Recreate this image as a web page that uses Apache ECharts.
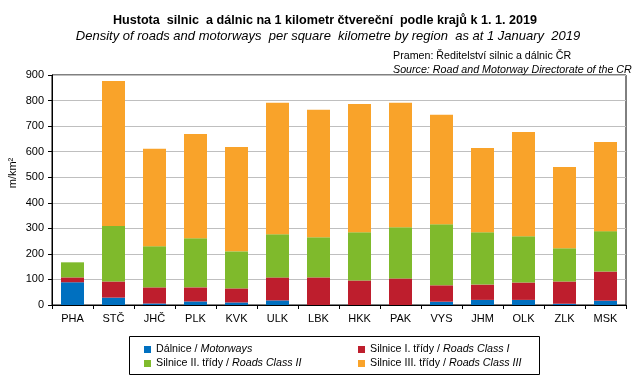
<!DOCTYPE html>
<html><head><meta charset="utf-8">
<script src="https://cdn.jsdelivr.net/npm/echarts@6/dist/echarts.min.js"></script>
<style>html,body{margin:0;padding:0;background:#fff}#c{width:643px;height:390px}</style>
</head><body><div id="c"></div>
<script>
const categories = ['PHA','STČ','JHČ','PLK','KVK','ULK','LBK','HKK','PAK','VYS','JHM','OLK','ZLK','MSK'];
const motorways = [89, 29, 6, 14, 10, 18, 0, 0, 0, 13, 20, 20, 5, 17];
const roadsClass1 = [19, 63, 63, 55, 55, 90, 108, 96, 104, 64, 60, 68, 87, 114];
const roadsClass2 = [59, 217, 161, 192, 145, 169, 157, 189, 200, 239, 205, 181, 130, 158];
const roadsClass3 = [0, 568, 381, 408, 408, 514, 499, 502, 487, 428, 329, 408, 318, 349];
const yTicks = {min: 0, max: 900, interval: 100};
const seriesNames = ['Dálnice', 'Silnice I. třídy', 'Silnice II. třídy', 'Silnice III. třídy'];
const seriesNamesEn = {'Dálnice':'Motorways','Silnice I. třídy':'Roads Class I','Silnice II. třídy':'Roads Class II','Silnice III. třídy':'Roads Class III'};
const colors = ['#0070C0', '#BE1E2D', '#7FBA2C', '#F9A32A'];

const F = '"Liberation Sans", Arial, sans-serif';
const chart = echarts.init(document.getElementById('c'), null, {renderer:'canvas'});
const legendText = {
  fontFamily: F, fontSize: 10.7, color: '#000',
  rich: {
    n: {fontFamily: F, fontSize: 10.7, color: '#000'},
    i: {fontFamily: F, fontSize: 10.7, color: '#000', fontStyle: 'italic'}
  }
};
const legendFmt = name => '{n|' + name + ' / }{i|' + seriesNamesEn[name] + '}';
const dataSets = [motorways, roadsClass1, roadsClass2, roadsClass3];
chart.setOption({
  animation: false,
  textStyle: {fontFamily: F},
  title: [
    {text: 'Hustota  silnic  a dálnic na 1 kilometr čtvereční  podle krajů k 1. 1. 2019', left: 320, textAlign: 'center', top: 9,
     textStyle: {fontFamily: '"Liberation Sans Narrow", ' + F, fontWeight: 'bold', fontSize: 12.6, color: '#000'}},
    {text: 'Density of roads and motorways  per square  kilometre by region  as at 1 January  2019', left: 323, textAlign: 'center', top: 25,
     textStyle: {fontFamily: F, fontStyle: 'italic', fontWeight: 'normal', fontSize: 13, color: '#000'}},
    {text: 'Pramen: Ředitelství silnic a dálnic ČR', left: 388, top: 46,
     textStyle: {fontFamily: F, fontWeight: 'normal', fontSize: 10.7, color: '#000'}},
    {text: 'Source: Road and Motorway Directorate of the CR', left: 388, top: 60,
     textStyle: {fontFamily: F, fontStyle: 'italic', fontWeight: 'normal', fontSize: 10.7, color: '#000'}}
  ],
  legend: [
    {data: [seriesNames[0], seriesNames[2]], orient: 'vertical', left: 139, top: 339, itemWidth: 7, itemHeight: 7, itemGap: 3,
     icon: 'rect', textStyle: legendText, formatter: legendFmt, selectedMode: false},
    {data: [seriesNames[1], seriesNames[3]], orient: 'vertical', left: 353, top: 339, itemWidth: 7, itemHeight: 7, itemGap: 3,
     icon: 'rect', textStyle: legendText, formatter: legendFmt, selectedMode: false}
  ],
  graphic: [
    {type: 'rect', left: 127, top: 334, shape: {width: 410, height: 38}, style: {fill: 'none', stroke: '#000', lineWidth: 1}, silent: true},
    {type: 'text', x: 13, y: 173, rotation: Math.PI / 2,
     style: {text: 'm/km²', fontFamily: F, fontSize: 11, fill: '#000', align: 'center', verticalAlign: 'middle'}}
  ],
  grid: {left: 52, right: 17, top: 75, bottom: 85, show: true, borderColor: '#000', borderWidth: 1, backgroundColor: 'transparent'},
  xAxis: {
    type: 'category', data: categories,
    axisLine: {lineStyle: {color: '#000', width: 1}},
    axisTick: {show: true, length: 4, lineStyle: {color: '#000'}},
    axisLabel: {color: '#000', fontFamily: F, fontSize: 11, margin: 8}
  },
  yAxis: {
    type: 'value', min: yTicks.min, max: yTicks.max, interval: yTicks.interval,
    axisLine: {show: true, lineStyle: {color: '#000', width: 1}},
    axisTick: {show: true, length: 4, lineStyle: {color: '#000'}},
    axisLabel: {color: '#000', fontFamily: F, fontSize: 11, margin: 8},
    splitLine: {lineStyle: {color: '#BFBFBF', width: 1}}
  },
  series: seriesNames.map((n, k) => ({
    name: n, type: 'bar', stack: 'total', barWidth: 23,
    itemStyle: {color: colors[k]},
    data: dataSets[k]
  }))
});
</script></body></html>
